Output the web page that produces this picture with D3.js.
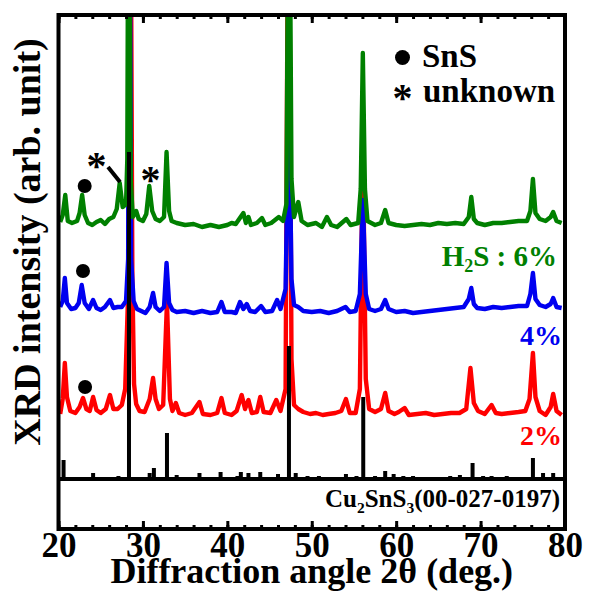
<!DOCTYPE html>
<html><head><meta charset="utf-8">
<script src="https://cdn.jsdelivr.net/npm/d3@7"></script>
<style>
html,body{margin:0;padding:0;background:#fff;}
text{font-family:"Liberation Serif","Times New Roman",serif;font-weight:bold;}
</style></head>
<body><svg id="chart" width="593" height="591"></svg>
<script>
// ---- data (2theta in degrees, intensity in arb. units incl. vertical offset) ----
const xTicks = [20, 30, 40, 50, 60, 70, 80];
const seriesLabels = ["H2S : 6%", "4%", "2%"];
const refLabel = "Cu2SnS3(00-027-0197)";
const legendLabels = ["SnS", "unknown"];

const green6 = [[20.2,257],[20.5,264],[20.8,284],[21.1,258],[21.6,256],[22.2,258],[22.5,266],[22.8,284],[23.1,264],[23.5,256],[24.0,254],[24.5,257],[25.0,259],[25.5,255],[26.0,260],[26.5,262],[26.9,270],[27.25,296],[27.6,272],[28.0,275],[28.15,320],[28.3,700],[28.55,300],[28.8,262],[29.2,268],[29.5,260],[30.0,258],[30.4,265],[30.75,293],[31.1,268],[31.5,260],[32.0,258],[32.5,262],[32.8,327],[33.1,268],[33.4,258],[34,256],[35,254],[36,255],[37,252],[38,254],[39,252],[40,254],[40.5,256],[41.0,255],[41.9,266],[42.2,256],[42.5,262],[42.8,254],[43.5,256],[44.1,261],[44.5,254],[45.2,256],[46.1,262],[46.6,258],[47.0,275],[47.3,700],[47.6,300],[47.9,262],[48.4,277],[48.8,258],[49.5,254],[50.5,256],[51.2,252],[51.8,262],[52.3,254],[53.0,252],[54.1,260],[54.6,254],[55.5,256],[55.8,290],[56.05,426],[56.3,290],[56.6,258],[57.5,254],[58.2,256],[58.7,269],[59.1,256],[60,254],[61,253],[62,254],[63,255],[64,254],[65,256],[66,255],[67,256],[68,255],[68.6,262],[68.9,282],[69.2,260],[69.6,256],[70.5,254],[71.5,256],[72.5,256],[73.5,257],[74.5,258],[75.5,258],[75.9,268],[76.2,300],[76.5,266],[77.0,260],[77.7,258],[78.3,262],[78.6,267],[79.0,258],[79.6,256]];

const blue4 = [[20.2,172],[20.5,178],[20.75,201],[21.0,176],[21.5,170],[22.0,171],[22.4,176],[22.75,194],[23.1,176],[23.6,170],[24.1,179],[24.5,171],[25.0,169],[25.5,172],[26.1,179],[26.5,171],[27.0,172],[27.5,172],[28.0,178],[28.25,220],[28.4,700],[28.6,220],[28.9,178],[29.3,170],[29.8,168],[30.3,166],[30.8,172],[31.2,186],[31.5,172],[32.0,168],[32.5,172],[32.8,216],[33.1,176],[33.5,169],[34,167],[35,168],[36,166],[37,168],[38,166],[38.8,167],[39.3,177],[39.7,167],[40.5,167],[41.0,166],[41.5,177],[41.9,170],[42.3,175],[42.7,168],[43.3,167],[44.0,173],[44.5,167],[45.3,168],[45.9,179],[46.3,170],[46.9,190],[47.3,390],[47.6,200],[47.9,174],[48.4,172],[49,168],[50,167],[51,168],[52,166],[53,168],[54.0,172],[54.5,167],[55.2,168],[55.7,185],[56.05,279],[56.4,185],[56.8,170],[57.5,168],[58.2,170],[58.7,179],[59.1,170],[60,167],[61,168],[62,166],[63,167],[64,168],[65,169],[66,170],[67,171],[68,172],[68.6,180],[68.9,191],[69.2,175],[69.6,171],[70.5,170],[71.5,172],[72.5,171],[73.5,172],[74.5,173],[75.5,173],[75.9,185],[76.2,206],[76.5,180],[77.0,174],[77.7,172],[78.3,175],[78.6,181],[79.0,172],[79.6,171]];

const red2 = [[20.2,65],[20.5,80],[20.75,116],[21.0,82],[21.4,68],[22.0,66],[22.5,72],[22.9,81],[23.3,70],[23.7,68],[24.1,82],[24.5,69],[25.0,66],[25.6,70],[26.1,84],[26.5,70],[27.0,70],[27.5,74],[27.9,90],[28.3,200],[28.5,700],[28.75,200],[28.95,95],[29.2,75],[29.6,68],[30.2,67],[30.8,80],[31.2,101],[31.5,80],[31.9,70],[32.4,74],[32.85,177],[33.2,80],[33.5,68],[33.9,76],[34.3,66],[35,64],[35.8,66],[36.7,77],[37.1,65],[38,64],[38.8,66],[39.3,81],[39.7,66],[40.5,64],[41.1,68],[41.7,84],[42.1,70],[42.5,79],[42.9,66],[43.5,67],[43.9,82],[44.3,67],[45.1,66],[45.8,79],[46.3,68],[46.9,90],[47.25,700],[47.6,120],[47.9,74],[48.4,70],[49,67],[49.8,65],[50.5,66],[51.3,64],[52,65],[52.8,66],[53.5,68],[54.05,80],[54.5,66],[55.2,66],[55.7,90],[56.05,340],[56.4,100],[56.8,70],[57.5,67],[58.2,70],[58.7,86],[59.1,68],[59.8,65],[60.3,67],[61.0,71],[61.5,64],[62.5,65],[63.5,66],[64.5,64],[65.5,65],[66.5,66],[67.5,66],[68.3,70],[68.8,111],[69.2,76],[69.7,68],[70.5,65],[71.3,74],[71.8,66],[72.5,65],[73.5,66],[74.5,67],[75.3,68],[75.8,80],[76.2,126],[76.5,82],[77.0,68],[77.7,64],[78.3,72],[78.6,85],[79.0,68],[79.6,64]];

// reference stick pattern Cu2SnS3 (PDF 00-027-0197)
const refSticks = [[20.6,19],[24.1,6],[27.1,3],[28.35,327],[30.8,6],[31.3,11],[32.85,46],[34.0,4],[36.7,6],[39.2,7],[41.2,3],[41.6,7],[42.5,6],[43.9,7],[46.0,5],[47.3,133],[48.1,6],[49.5,3],[50.85,3],[54.05,5],[55.3,3],[56.1,82],[57.5,3],[58.7,8],[59.7,5],[60.85,3],[62.0,3],[66.4,3],[67.55,4],[69.05,16],[70.3,3],[71.3,3],[73.1,3],[76.2,21],[77.4,6],[78.6,6]];

// phase markers: [2theta, intensity]
const snsMarks = [[23.1,293],[22.9,208],[23.15,92]];
const unknownMarks = [[24.5,319],[30.9,305]];

// ---- drawing ----
const svg = d3.select("#chart");
const L = 58.5, R = 565, T = 15, SEP = 479, B = 529;
const x = d3.scaleLinear().domain([20, 80]).range([L, R]);
const y = d3.scaleLinear().domain([0, SEP - T]).range([SEP, T]);

svg.append("defs").append("clipPath").attr("id","clip")
  .append("rect").attr("x",L).attr("y",T).attr("width",R-L).attr("height",SEP-T);

const line = d3.line().x(d => x(d[0])).y(d => y(d[1]));
const g = svg.append("g").attr("clip-path","url(#clip)");
[[red2,"#ff0000"],[blue4,"#0000f0"],[green6,"#008000"]].forEach(([data,col]) => {
  g.append("path").datum(data).attr("d", line).attr("fill","none")
    .attr("stroke", col).attr("stroke-width", 4.4).attr("stroke-linejoin","round");
});
g.selectAll("line.stick").data(refSticks).enter().append("line")
  .attr("x1", d => x(d[0])).attr("x2", d => x(d[0]))
  .attr("y1", y(0)).attr("y2", d => y(d[1]))
  .attr("stroke","#000").attr("stroke-width",4);

// frame
svg.append("rect").attr("x",L).attr("y",T).attr("width",R-L).attr("height",B-T)
  .attr("fill","none").attr("stroke","#000").attr("stroke-width",4);
svg.append("line").attr("x1",L).attr("x2",R).attr("y1",SEP).attr("y2",SEP)
  .attr("stroke","#000").attr("stroke-width",4);

// axes (ticks inside)
const minor = d3.range(20, 81, 2);
function styleAxis(sel){ sel.select(".domain").remove(); sel.selectAll(".tick line").attr("stroke","#000").attr("stroke-width",3); }
svg.append("g").attr("transform",`translate(0,${T})`)
  .call(d3.axisTop(x).tickValues(minor).tickSize(-4).tickFormat("")).call(styleAxis);
svg.append("g").attr("transform",`translate(0,${T})`)
  .call(d3.axisTop(x).tickValues(xTicks).tickSize(-8).tickFormat("")).call(styleAxis);
svg.append("g").attr("transform",`translate(0,${B})`)
  .call(d3.axisBottom(x).tickValues(minor).tickSize(-4).tickFormat("")).call(styleAxis);
const xb = svg.append("g").attr("transform",`translate(0,${B})`)
  .call(d3.axisBottom(x).tickValues(xTicks).tickSize(-8).tickPadding(3).tickFormat(d3.format("d")));
styleAxis(xb);
xb.selectAll("text").attr("font-family",'"Liberation Serif",serif').attr("font-weight","bold")
  .attr("font-size",35).attr("fill","#000");

// axis titles
svg.append("text").attr("x",(L+R)/2).attr("y",583).attr("text-anchor","middle")
  .attr("font-size",36).text("Diffraction angle 2θ (deg.)");
svg.append("text").attr("transform","translate(40,242) rotate(-90)").attr("text-anchor","middle")
  .attr("font-size",38).text("XRD intensity (arb. unit)");

// reference label
function subText(sel, parts, size){
  parts.forEach(p => {
    const t = sel.append("tspan").text(p[0]);
    if (p[1]) t.attr("font-size", size*0.62).attr("dy", size*0.22);
    else if (p[2]) t.attr("dy", -size*0.22);
  });
}
const rl = svg.append("text").attr("x",560).attr("y",507).attr("text-anchor","end").attr("font-size",25);
subText(rl, [["Cu"],["2",1],["SnS",0,1],["3",1],["(00-027-0197)",0,1]], 25);

// series labels
const gl = svg.append("text").attr("x",557).attr("y",266).attr("text-anchor","end").attr("font-size",29).attr("fill","#008000");
subText(gl, [["H"],["2",1],["S : 6%",0,1]], 29);
svg.append("text").attr("x",562).attr("y",345).attr("text-anchor","end").attr("font-size",28).attr("fill","#0000f0").text(seriesLabels[1]);
svg.append("text").attr("x",562).attr("y",445).attr("text-anchor","end").attr("font-size",28).attr("fill","#ff0000").text(seriesLabels[2]);

// legend
svg.append("circle").attr("cx",402.5).attr("cy",57.5).attr("r",7.5).attr("fill","#000");
svg.append("text").attr("x",422).attr("y",67).attr("font-size",33).text(legendLabels[0]);
svg.append("text").attr("x",402.5).attr("y",111).attr("text-anchor","middle").attr("font-size",40).text("*");
svg.append("text").attr("x",423).attr("y",101.5).attr("font-size",33).text(legendLabels[1]);

// markers in plot
svg.selectAll("circle.sns").data(snsMarks).enter().append("circle")
  .attr("cx", d => x(d[0])).attr("cy", d => y(d[1])).attr("r",7).attr("fill","#000");
svg.selectAll("text.unk").data(unknownMarks).enter().append("text")
  .attr("x", d => x(d[0])).attr("y", d => y(d[1]) + 19).attr("text-anchor","middle")
  .attr("font-size",40).text("*");
svg.append("line").attr("x1",108).attr("y1",167).attr("x2",120).attr("y2",182)
  .attr("stroke","#000").attr("stroke-width",4);
</script>
</body></html>
